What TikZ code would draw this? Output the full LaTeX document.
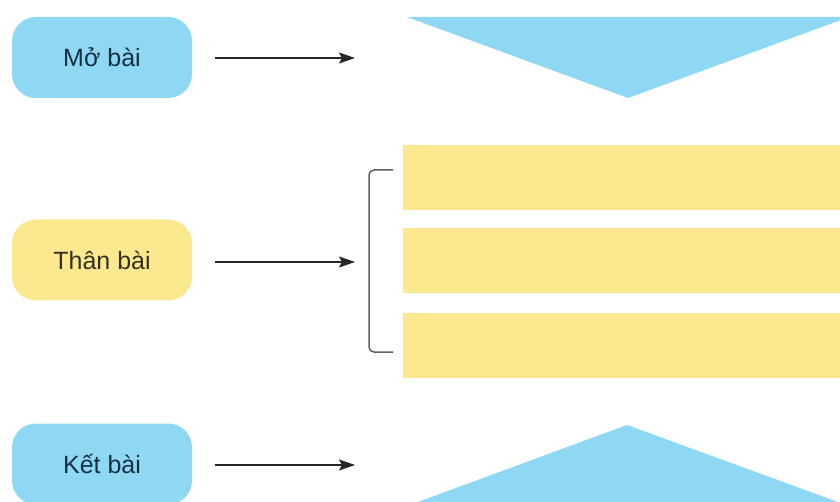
\documentclass[tikz,border=0pt]{standalone}
\usepackage{fontspec}
\setmainfont{Liberation Sans}
\usetikzlibrary{arrows.meta}
\definecolor{skyfill}{HTML}{8FD8F4}
\definecolor{sunfill}{HTML}{FCE98F}
\definecolor{skyink}{HTML}{132F42}
\definecolor{sunink}{HTML}{36301C}
\definecolor{linkgray}{HTML}{262626}
\definecolor{bracegray}{HTML}{5E5E5E}
\tikzset{
  partbox/.style={rounded corners=24pt, minimum width=180pt, minimum height=81pt,
    inner sep=0pt, font=\fontsize{25}{30}\selectfont},
  skybox/.style={partbox, fill=skyfill, text=skyink},
  sunbox/.style={partbox, fill=sunfill, text=sunink},
  bar/.style={fill=sunfill, minimum width=437pt, minimum height=65pt, inner sep=0pt, anchor=north west},
  link/.style={draw=linkgray, line width=1.5pt, -{Stealth[length=16pt,width=11pt,inset=3pt]}},
  brace/.style={draw=bracegray, line width=1.5pt, rounded corners=5pt}
}
\begin{document}
\begin{tikzpicture}[x=1pt,y=-1pt]
  \useasboundingbox (0,0) rectangle (840,502);
  \fill[white] (0,0) rectangle (840,502);
  \begin{scope}
    \clip (0,0) rectangle (840,502);

    % section labels
    \node[skybox] (mo)   at (102,57.5)  {Mở bài};
    \node[sunbox] (than) at (102,260)   {Thân bài};
    \node[skybox] (ket)  at (102,464)   {Kết bài};

    % opening: downward triangle
    \coordinate (moL) at (407,17);
    \coordinate (moR) at (849,17);
    \coordinate (moTip) at (628,98);
    \fill[skyfill] (moL) -- (moR) -- (moTip) -- cycle;

    % body: three bars
    \node[bar] (b1) at (403,145) {};
    \node[bar] (b2) at (403,228) {};
    \node[bar] (b3) at (403,313) {};

    % closing: upward triangle
    \coordinate (ketL) at (407,506);
    \coordinate (ketR) at (849,506);
    \coordinate (ketTip) at (627,425);
    \fill[skyfill] (ketL) -- (ketR) -- (ketTip) -- cycle;

    % bracket around the bars
    \coordinate (brT) at (393,170);
    \coordinate (brB) at (393,352);
    \draw[brace] (brT) -- (369,170) -- (369,352) -- (brB);

    % arrow ends
    \coordinate (moEnd)   at (355,58);
    \coordinate (thanEnd) at (355,262);
    \coordinate (ketEnd)  at (355,465);

    \draw[link] ([xshift=23pt]mo.east |- moEnd) -- (moEnd);
    \draw[link] ([xshift=23pt]than.east |- thanEnd) -- (thanEnd);
    \draw[link] ([xshift=23pt]ket.east |- ketEnd) -- (ketEnd);
  \end{scope}
\end{tikzpicture}
\end{document}
